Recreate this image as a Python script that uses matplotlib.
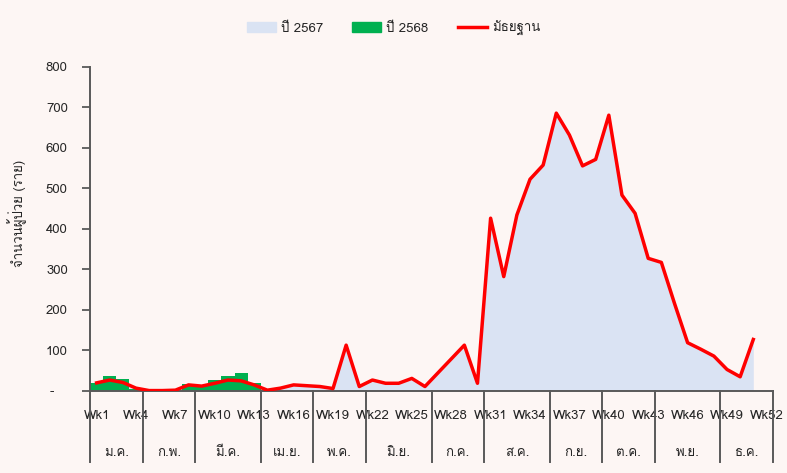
import numpy as np
import matplotlib
matplotlib.use("Agg")
import matplotlib.pyplot as plt
from matplotlib import font_manager
from matplotlib.patches import Patch
from matplotlib.lines import Line2D
from matplotlib.transforms import blended_transform_factory
from fontTools.ttLib import TTFont

# data
weeks = np.arange(1, 53)
tick_weeks = [1, 4, 7, 10, 13, 16, 19, 22, 25, 28, 31, 34, 37, 40, 43, 46, 49, 52]
months = ["ม.ค.", "ก.พ.", "มี.ค.", "เม.ย.", "พ.ค.", "มิ.ย.", "ก.ค.", "ส.ค.", "ก.ย.", "ต.ค.", "พ.ย.", "ธ.ค."]
month_weeks = [4, 4, 5, 4, 4, 5, 4, 5, 4, 4, 5, 4]

# 2567 (area), weeks 1-51
cases_2567 = [20, 27, 21, 7, 1, 1, 2, 15, 12, 19, 27, 25, 15, 2, 7, 15, 13, 11, 6, 113,
              11, 27, 19, 19, 31, 11, 45, 79, 113, 19, 426, 282, 434, 522, 557, 685, 631, 555, 571, 680,
              483, 438, 327, 317, 216, 119, 103, 86, 53, 35, 127]
# 2568 (bars), weeks 1-13
cases_2568 = [20, 38, 29, 5, 0, 0, 0, 18, 15, 27, 36, 45, 20]
# median, weeks 1-51
median = [20, 27, 21, 7, 1, 1, 2, 15, 12, 19, 27, 25, 15, 2, 7, 15, 13, 11, 6, 113,
          11, 27, 19, 19, 31, 11, 45, 79, 113, 19, 426, 282, 434, 522, 557, 685, 631, 555, 571, 680,
          483, 438, 327, 317, 216, 119, 103, 86, 53, 35, 127]


# pick a font that has thai glyphs
def thai_fonts():
    found = []
    for f in font_manager.fontManager.ttflist:
        try:
            cmap = TTFont(f.fname, fontNumber=0, lazy=True).getBestCmap()
        except Exception:
            continue
        if cmap and 0x0E08 in cmap and 0x0E21 in cmap:
            found.append(f.name)
    return found

thai = thai_fonts()
plt.rcParams['font.family'] = (thai[:1] if thai else []) + ['DejaVu Sans']

BG = '#fdf6f4'
AXC = '#595959'
TXT = '#262626'

fig = plt.figure(figsize=(7.87, 4.73), dpi=100, facecolor=BG)
ax = fig.add_axes([0.1144, 0.1734, 0.8678, 0.686], facecolor=BG)

ax.fill_between(weeks[:len(cases_2567)], cases_2567, 0, color='#dae3f3', lw=0, zorder=1)
ax.bar(weeks[:len(cases_2568)], cases_2568, width=1.0, color='#00b050', lw=0, zorder=2)
ax.plot(weeks[:len(median)], median, color='#ff0000', lw=2.5, zorder=3)

ax.set_xlim(0.5, 52.5)
ax.set_ylim(0, 800)
ax.set_yticks(range(0, 801, 100))
ax.set_yticklabels(['-   '] + [str(v) for v in range(100, 801, 100)])
ax.set_xticks(tick_weeks)
ax.set_xticklabels([f"Wk{w}" for w in tick_weeks])
ax.tick_params(axis='x', length=0, pad=14, labelsize=9.5, colors=TXT)
ax.tick_params(axis='y', length=6, width=1.3, color=AXC, labelsize=9.5, pad=10, labelcolor=TXT)

for s in ['top', 'right']:
    ax.spines[s].set_visible(False)
for s in ['left', 'bottom']:
    ax.spines[s].set_color(AXC)
    ax.spines[s].set_linewidth(1.4)

# month groups under the axis
trans = blended_transform_factory(ax.transData, ax.transAxes)
edges = np.concatenate([[0], np.cumsum(month_weeks)]) + 0.5
for e in edges:
    ax.plot([e, e], [0, -0.219], transform=trans, color=AXC, lw=1.4, clip_on=False)
for i, m in enumerate(months):
    ax.text((edges[i] + edges[i + 1]) / 2, -0.19, m, transform=trans,
            ha='center', va='center', fontsize=9.5, color=TXT)

fig.text(17 / 787, 1 - 213 / 473, "จำนวนผู้ป่วย (ราย)", rotation=90,
         ha='center', va='center', fontsize=9.5, color=TXT)

handles = [Patch(color='#dae3f3', label='ปี 2567'),
           Patch(color='#00b050', label='ปี 2568'),
           Line2D([0], [0], color='#ff0000', lw=2.5, label='มัธยฐาน')]
fig.legend(handles=handles, loc='center', bbox_to_anchor=(0.5, 0.94), ncol=3,
           frameon=False, fontsize=9.5, handlelength=2.2, handleheight=0.8,
           columnspacing=2.2, handletextpad=0.4, labelcolor=TXT)

fig.savefig('out.png', dpi=100, facecolor=BG)
